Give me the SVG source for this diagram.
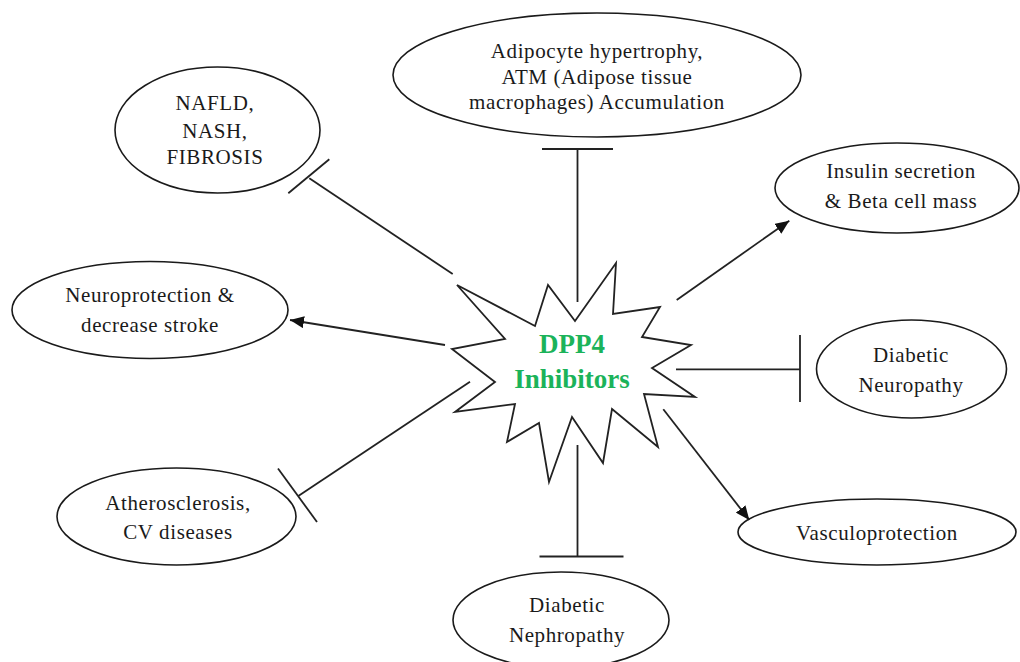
<svg xmlns="http://www.w3.org/2000/svg" width="1020" height="662" viewBox="0 0 1020 662">
<style>
.node ellipse{fill:#fff;stroke:#1a1a1a;stroke-width:1.6}
.node text{font-family:"Liberation Serif","Times New Roman",serif;font-size:21px;fill:#1a1a1a;text-anchor:middle;letter-spacing:0.6px}
.conn line{stroke:#222;stroke-width:1.8;fill:none}
.star polygon{fill:#fff;stroke:#222;stroke-width:1.8;stroke-linejoin:miter}
.star text{font-family:"Liberation Serif","Times New Roman",serif;font-size:27px;font-weight:bold;fill:#1bb35a;text-anchor:middle}
</style>
<defs>
<marker id="ah" markerUnits="userSpaceOnUse" markerWidth="16" markerHeight="12" refX="14" refY="6" orient="auto">
<path d="M0,0 L14,6 L0,12 z" fill="#111"/>
</marker>
</defs>
<rect width="1020" height="662" fill="#fff"/>
<g id="adipocyte" class="node">
<ellipse cx="597" cy="75" rx="204" ry="62"/>
<text x="597" y="58">Adipocyte hypertrophy,</text>
<text x="597" y="84">ATM (Adipose tissue</text>
<text x="597" y="109">macrophages) Accumulation</text>
</g>
<g id="nafld" class="node">
<ellipse cx="217.5" cy="130" rx="102.5" ry="63"/>
<text x="215" y="110">NAFLD,</text>
<text x="215" y="138">NASH,</text>
<text x="215" y="164">FIBROSIS</text>
</g>
<g id="neuroprotection" class="node">
<ellipse cx="150" cy="310" rx="138" ry="48.5"/>
<text x="150" y="302">Neuroprotection &amp;</text>
<text x="150" y="332">decrease stroke</text>
</g>
<g id="insulin" class="node">
<ellipse cx="897" cy="188" rx="122" ry="45"/>
<text x="901" y="178">Insulin secretion</text>
<text x="901" y="208">&amp; Beta cell mass</text>
</g>
<g id="neuropathy" class="node">
<ellipse cx="911.5" cy="369" rx="95" ry="49"/>
<text x="911" y="362">Diabetic</text>
<text x="911" y="392">Neuropathy</text>
</g>
<g id="vasculo" class="node">
<ellipse cx="877" cy="532" rx="139" ry="33"/>
<text x="877" y="540">Vasculoprotection</text>
</g>
<g id="nephropathy" class="node">
<ellipse cx="561" cy="620" rx="108" ry="48"/>
<text x="567" y="612">Diabetic</text>
<text x="567" y="642">Nephropathy</text>
</g>
<g id="athero" class="node">
<ellipse cx="176.5" cy="516.5" rx="119.5" ry="48.5"/>
<text x="178" y="510">Atherosclerosis,</text>
<text x="178" y="539">CV diseases</text>
</g>
<g id="connectors" class="conn">
<line x1="577.5" y1="302" x2="577.5" y2="149"/>
<line x1="542" y1="149" x2="613" y2="149"/>
<line x1="577.5" y1="445" x2="577.5" y2="556.5"/>
<line x1="539.5" y1="556.5" x2="623.5" y2="556.5"/>
<line x1="676" y1="369.3" x2="800" y2="369.3"/>
<line x1="800" y1="335" x2="800" y2="402"/>
<line x1="676.7" y1="300" x2="789.3" y2="220.7" marker-end="url(#ah)"/>
<line x1="663.3" y1="409.3" x2="749.3" y2="520" marker-end="url(#ah)"/>
<line x1="445" y1="345" x2="290" y2="320" marker-end="url(#ah)"/>
<line x1="452.7" y1="274" x2="309.3" y2="178.3"/>
<line x1="288.3" y1="193.3" x2="329.3" y2="159.3"/>
<line x1="470" y1="381.7" x2="298.3" y2="496"/>
<line x1="278" y1="468.5" x2="317" y2="522"/>
</g>
<g id="dpp4" class="star">
<polygon points="457,285 535,326 548,285 575,321 616,263 613,314 660,307 642,337 691,345 652,368 695,397 644,394 658,447 612,409 603,463 572,417 549,482 539,423 507,442 515,404 455,412 495,382 452,349 505,339"/>
<text x="572" y="353">DPP4</text>
<text x="572" y="388">Inhibitors</text>
</g>
</svg>
